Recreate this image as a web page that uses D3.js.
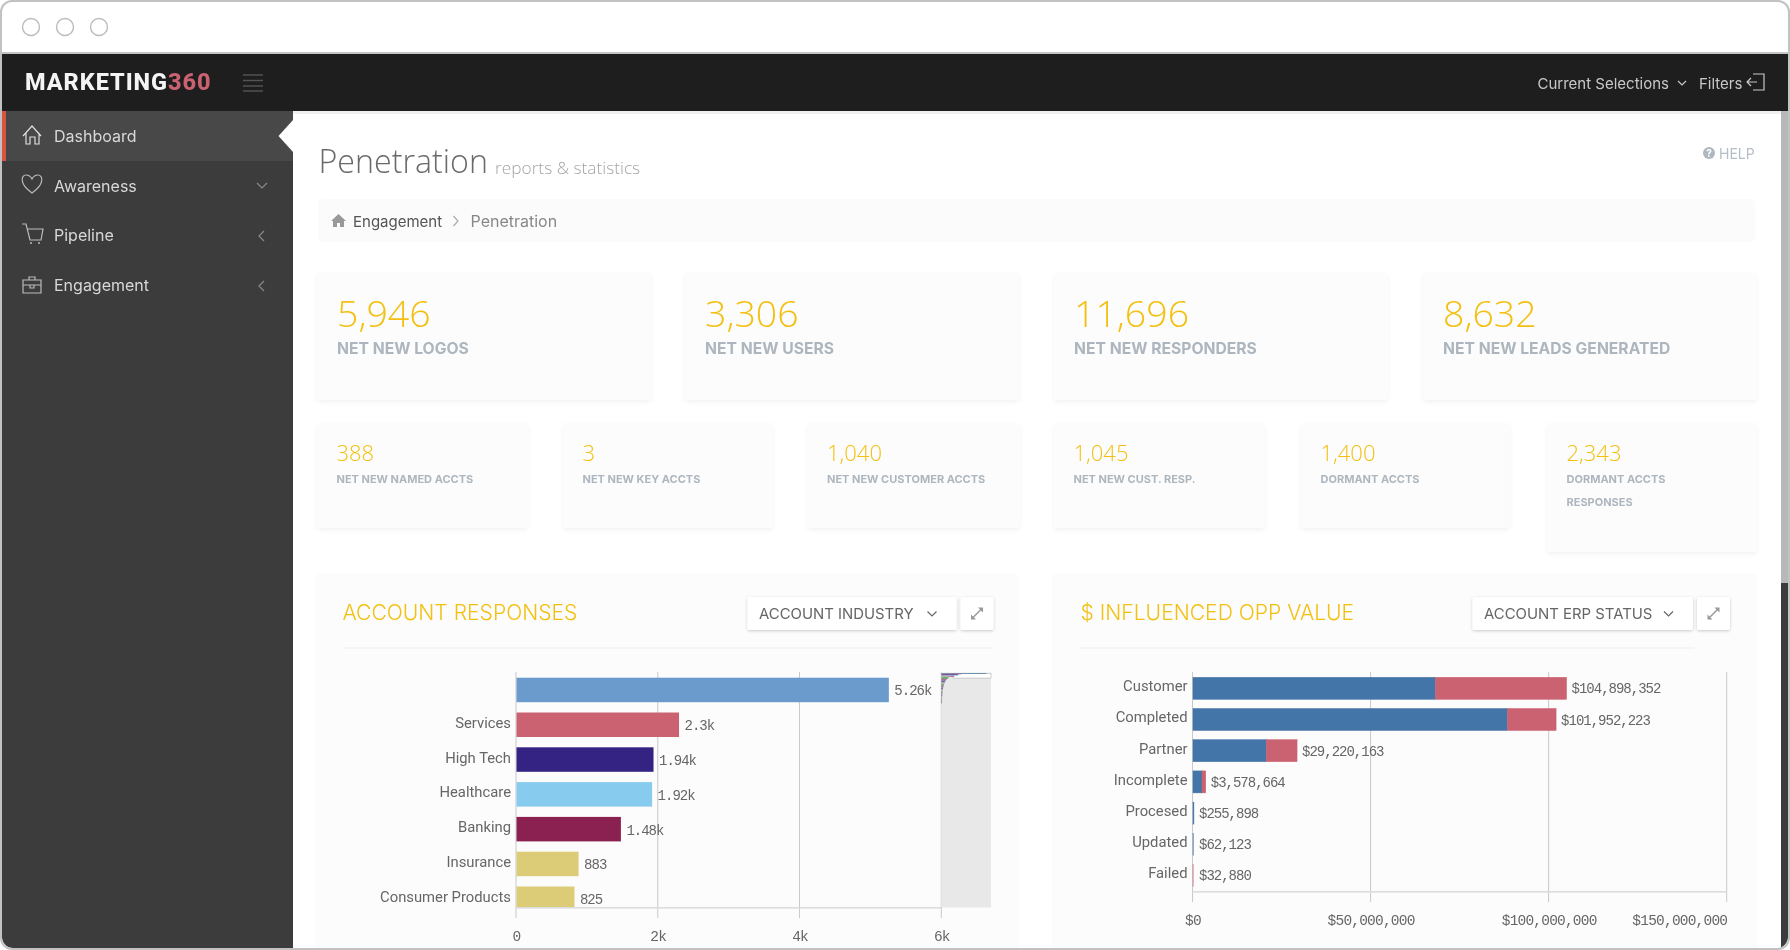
<!DOCTYPE html>
<html>
<head>
<meta charset="utf-8">
<title>Marketing360 - Penetration</title>
<script src="https://cdn.jsdelivr.net/npm/d3@7"></script>
<style>
    html, body { margin: 0; padding: 0; background: #fff; overflow: hidden; }
    svg { display: block; font-family: Inter, Roboto, sans-serif; filter: blur(0.35px); }
    .num { font-family: "Open Sans", sans-serif; fill: #f3c012; font-weight: 300; }
    .val-txt { font-family: "Liberation Mono", monospace; fill: #666; font-size: 14px; letter-spacing: -1px; }
    .tick-txt { font-family: "Liberation Mono", monospace; fill: #666; font-size: 14.5px; letter-spacing: -0.8px; }
    .cat-txt { font-family: Roboto, sans-serif; fill: #666; }
    .axis path, .axis line { display: none; }
</style>
</head>
<body>
<div id="page"></div>
<script>
// dados
var menuItems = ['Dashboard', 'Awareness', 'Pipeline', 'Engagement'];

var kpiValues = ['5,946', '3,306', '11,696', '8,632'];
var kpiLabels = ['NET NEW LOGOS', 'NET NEW USERS', 'NET NEW RESPONDERS', 'NET NEW LEADS GENERATED'];

var subValues = ['388', '3', '1,040', '1,045', '1,400', '2,343'];
var subLabels = ['NET NEW NAMED ACCTS', 'NET NEW KEY ACCTS', 'NET NEW CUSTOMER ACCTS', 'NET NEW CUST. RESP.', 'DORMANT ACCTS', 'DORMANT ACCTS|RESPONSES'];

var industryNames = ['', 'Services', 'High Tech', 'Healthcare', 'Banking', 'Insurance', 'Consumer Products'];
var industryValues = [5260, 2300, 1940, 1920, 1480, 883, 825];
var industryText = ['5.26k', '2.3k', '1.94k', '1.92k', '1.48k', '883', '825'];
var industryColors = ['#6a9bcc', '#cb6272', '#352383', '#87cbee', '#8a2150', '#ddcc77', '#ddcc77'];
var industryTicks = [0, 2000, 4000, 6000];

// mini chart: valores do topo da lista, o resto fica quase zero
var miniValues = [5260, 2300, 1940, 1920, 1480, 883, 825, 700, 610, 540, 470, 420, 380, 340, 300, 270, 240, 215, 190, 170, 150, 135, 120, 105, 95, 85, 75, 68, 60, 54, 48, 42, 37, 33, 29, 25, 22, 19, 16, 14, 12, 10, 8, 6];
var miniColors = ['#4477aa', '#cc6677', '#332288', '#88ccee', '#882255', '#ddcc77', '#44aa99', '#117733', '#999933', '#aa4499'];
var miniTotal = 335;

var erpNames = ['Customer', 'Completed', 'Partner', 'Incomplete', 'Procesed', 'Updated', 'Failed'];
var erpBlue = [68100000, 88300000, 20560000, 2530000, 255898, 62123, 0];
var erpRed = [36798352, 13652223, 8660163, 1048664, 0, 0, 32880];
var erpTicks = [0, 50000000, 100000000, 150000000];

var yellow = '#f3c012';

var svg = d3.select('#page').append('svg').attr('width', 1790).attr('height', 950);

var defs = svg.append('defs');
defs.append('clipPath').attr('id', 'win').append('rect')
    .attr('x', 2).attr('y', 2).attr('width', 1786).attr('height', 946).attr('rx', 11);
defs.append('clipPath').attr('id', 'plotLeft').append('rect')
    .attr('x', 516).attr('y', 672).attr('width', 425).attr('height', 236);
var shadow = defs.append('filter').attr('id', 'soft').attr('x', '-5%').attr('y', '-5%').attr('width', '110%').attr('height', '115%');
shadow.append('feDropShadow').attr('dx', 0).attr('dy', 2).attr('stdDeviation', 2).attr('flood-color', '#000').attr('flood-opacity', 0.05);
var shadowBtn = defs.append('filter').attr('id', 'btn').attr('x', '-10%').attr('y', '-20%').attr('width', '120%').attr('height', '150%');
shadowBtn.append('feDropShadow').attr('dx', 0).attr('dy', 1).attr('stdDeviation', 1.5).attr('flood-color', '#000').attr('flood-opacity', 0.2);

function rect(g, x, y, w, h, fill) {
    return g.append('rect').attr('x', x).attr('y', y).attr('width', w).attr('height', h).attr('fill', fill);
}
function text(g, x, y, s, size, fill) {
    return g.append('text').attr('x', x).attr('y', y).attr('font-size', size).attr('fill', fill).text(s);
}
function icon(g, d, stroke, w) {
    return g.append('path').attr('d', d).attr('fill', 'none').attr('stroke', stroke).attr('stroke-width', w || 1.2);
}

var win = svg.append('g').attr('clip-path', 'url(#win)');

/* INICIO DA JANELA */
rect(win, 0, 0, 1790, 950, '#fff');
[31, 65, 99].forEach(function(cx) {
    win.append('circle').attr('cx', cx).attr('cy', 27).attr('r', 8.5)
        .attr('fill', '#fff').attr('stroke', '#bcbcbc').attr('stroke-width', 1.4);
});
rect(win, 0, 52, 1790, 2, '#c4c4c4');
rect(win, 0, 54, 1790, 57, '#1e1e1e');
rect(win, 293, 111, 1490, 3, '#e6e6e6').attr('opacity', 0.6);
/* FINAL DA JANELA */

/* INICIO DO TOPO */
var logo = win.append('text').attr('x', 25).attr('y', 90).attr('font-size', 23.5)
    .attr('font-weight', 800).attr('letter-spacing', 0.95).style('font-family', 'Roboto, sans-serif');
logo.append('tspan').attr('fill', '#f4f4f4').text('MARKETING');
logo.append('tspan').attr('fill', '#cb6272').text('360');
[75, 80.5, 86, 91].forEach(function(y) { rect(win, 243, y - 0.7, 20, 1.4, '#555'); });

text(win, 1537.5, 88.5, 'Current Selections', 15, '#c8c8c8');
icon(win, 'M1678 81l4 4 4-4', '#c8c8c8');
text(win, 1699, 88.5, 'Filters', 15, '#c8c8c8');
icon(win, 'M1753 74h11v16h-11M1757 82h-10M1751 78l-4 4 4 4', '#c8c8c8');
/* FINAL DO TOPO */

/* INICIO DO MENU */
rect(win, 0, 111, 293, 840, '#3c3c3c');
rect(win, 0, 111, 293, 50, '#484848');
rect(win, 2, 111, 4, 50, '#d9553f');
win.append('path').attr('d', d3.line()([[293, 120], [278.5, 136], [293, 152]])).attr('fill', '#fff');
menuItems.forEach(function(m, i) {
    text(win, 54, 142 + i * 49.7, m, 16, '#d8d8d8');
});
// casa, coracao, carrinho, maleta
icon(win, 'M23 136l9-10 9 10M26 133v11h4v-7h5v7h4v-11', '#ddd');
icon(win, 'M32 193c-13-9-11-18-6-18 3 0 5 2 6 4 1-2 3-4 6-4 5 0 7 9-6 18z', '#bbb');
icon(win, 'M22 224h4l4 16h11l2-11H27', '#bbb');
win.append('circle').attr('cx', 31).attr('cy', 243).attr('r', 1).attr('fill', '#bbb');
win.append('circle').attr('cx', 39).attr('cy', 243).attr('r', 1).attr('fill', '#bbb');
icon(win, 'M23 280h18v13h-18zM23 285h18M29 280v-3h6v3M30 285v3h4v-3', '#bbb');
icon(win, 'M257 183l5 5 5-5', '#888');
icon(win, 'M264 231l-5 5 5 5', '#888');
icon(win, 'M264 281l-5 5 5 5', '#888');
/* FINAL DO MENU */

/* INICIO DO CABECALHO */
text(win, 318.5, 173, 'Penetration', 32.2, '#6a6a6a').style('font-family', '"Open Sans", sans-serif').attr('font-weight', 300);
text(win, 495, 174, 'reports & statistics', 17.3, '#a5a5a5').style('font-family', '"Open Sans", sans-serif').attr('font-weight', 300);

win.append('circle').attr('cx', 1709).attr('cy', 153).attr('r', 6).attr('fill', '#aeb8c0');
text(win, 1709, 157, '?', 10, '#fff').attr('text-anchor', 'middle').attr('font-weight', 700);
text(win, 1719, 158.5, 'HELP', 14, '#b4bdc5');

rect(win, 318, 199, 1437, 43, '#fbfbfb').attr('rx', 5);
win.append('path').attr('d', 'M331 221l7.5-7 7.5 7h-2v6h-4v-4h-3v4h-4v-6z').attr('fill', '#999');
text(win, 353, 226.5, 'Engagement', 15, '#555');
icon(win, 'M453.5 216l4.5 5-4.5 5', '#aaa');
text(win, 470.5, 226.5, 'Penetration', 16, '#888');
/* FINAL DO CABECALHO */

/* INICIO DOS CARTOES */
var kpiLeft = [317, 685, 1054, 1423];
kpiValues.forEach(function(v, i) {
    rect(win, kpiLeft[i], 273, 334, 127, '#fcfcfc').attr('rx', 4).attr('filter', 'url(#soft)');
    text(win, kpiLeft[i] + 20, 327, v, 37.5, yellow).attr('class', 'num');
    text(win, kpiLeft[i] + 20, 354, kpiLabels[i], 15.7, '#adb6be').attr('font-weight', 700);
});

var subLeft = [317, 563, 807.5, 1054, 1301, 1547];
var subRight = [528, 773, 1020, 1265, 1510, 1757];
subValues.forEach(function(v, i) {
    var h = i == 5 ? 129 : 105;
    rect(win, subLeft[i], 423, subRight[i] - subLeft[i], h, '#fcfcfc').attr('rx', 4).attr('filter', 'url(#soft)');
    text(win, subLeft[i] + 19.5, 461, v, 22, yellow).attr('class', 'num');
    subLabels[i].split('|').forEach(function(line, k) {
        text(win, subLeft[i] + 19.5, 483 + k * 22.5, line, 11, '#adb6be').attr('font-weight', 700);
    });
});
/* FINAL DOS CARTOES */

/* INICIO DOS PAINEIS */
function painel(x0, x1, titulo, combo, comboX0, comboX1, tituloX) {
    rect(win, x0, 574, x1 - x0, 380, '#fcfcfc').attr('rx', 4);
    text(win, tituloX, 620, titulo, 21.1, yellow).attr('font-weight', 300);
    rect(win, x0 + 27.5, 647.5, x1 - x0 - (x0 < 1000 ? 53.5 : 91), 1, '#eeeeee');
    rect(win, comboX0, 597, comboX1 - comboX0, 33, '#fff').attr('rx', 2).attr('filter', 'url(#btn)');
    text(win, comboX0 + 11.5, 618.5, combo, 14.9, '#666');
    icon(win, 'M' + (comboX1 - 29) + ' 611.5l4.5 4.5 4.5-4.5', '#666');
    rect(win, comboX1 + 4, 597, 33, 33, '#fff').attr('rx', 2).attr('filter', 'url(#btn)');
    var ex = comboX1 + 20.5;
    icon(win, 'M' + (ex - 5) + ' 618.5l10-10', '#999', 1.4);
    win.append('path').attr('d', 'M' + (ex + 6) + ' 607.5v5l-5-5zM' + (ex - 6) + ' 619.5v-5l5 5z').attr('fill', '#999');
}
painel(315.5, 1019, 'ACCOUNT RESPONSES', 'ACCOUNT INDUSTRY', 747.5, 956.5, 342.5);
painel(1052, 1758, '$ INFLUENCED OPP VALUE', 'ACCOUNT ERP STATUS', 1472.5, 1693, 1080.5);
/* FINAL DOS PAINEIS */

/* INICIO DO GRAFICO DE INDUSTRIA */
var xInd = d3.scaleLinear().domain([0, 6000]).range([516, 941.3]);
var yInd = d3.scaleBand().domain(industryNames).range([672, 916.7]).paddingInner(0.296).paddingOuter(0.164);

win.append('g').selectAll('line').data(industryTicks).enter().append('line')
    .attr('x1', function(d) { return xInd(d); }).attr('x2', function(d) { return xInd(d); })
    .attr('y1', 672).attr('y2', 918)
    .attr('stroke', '#c9c9c9').attr('stroke-width', 1);

win.append('g').attr('clip-path', 'url(#plotLeft)').selectAll('rect').data(industryValues).enter().append('rect')
    .attr('x', xInd(0) + 0.5)
    .attr('y', function(d, i) { return yInd(industryNames[i]); })
    .attr('width', function(d) { return xInd(d) - xInd(0) - 0.5; })
    .attr('height', yInd.bandwidth())
    .attr('fill', function(d, i) { return industryColors[i]; });

rect(win, 516, 907, 425, 1.6, '#dcdcdc');

win.append('g').selectAll('text').data(industryValues).enter().append('text')
    .attr('class', 'val-txt')
    .attr('x', function(d) { return xInd(d) + 5.5; })
    .attr('y', function(d, i) { return yInd(industryNames[i]) + yInd.bandwidth() / 2 + 5.5; })
    .text(function(d, i) { return industryText[i]; });

var axisCat = win.append('g').attr('class', 'axis').attr('transform', 'translate(516,0)')
    .call(d3.axisLeft(yInd).tickSize(0).tickPadding(5));
axisCat.selectAll('text').attr('class', 'cat-txt').attr('dy', '0.2em').style('font-size', '14.8px');

var axisInd = win.append('g').attr('class', 'axis').attr('transform', 'translate(0,918)')
    .call(d3.axisBottom(xInd).tickValues(industryTicks).tickSize(0).tickPadding(13)
        .tickFormat(function(d) { return d == 0 ? '0' : (d / 1000) + 'k'; }));
axisInd.selectAll('text').attr('class', 'tick-txt').attr('dy', '0.71em');

// mini chart
var xMini = d3.scaleLinear().domain([0, 5900]).range([941.3, 991]);
var yMini = d3.scaleLinear().domain([0, miniTotal]).range([673, 907.5]);
rect(win, 941.3, 672.5, 49.7, 235, '#e8e8e8');
rect(win, 953, 673.5, 38, 4.6, '#fff').attr('stroke', '#bbb').attr('stroke-width', 0.7);
win.append('g').selectAll('rect').data(miniValues).enter().append('rect')
    .attr('x', xMini(0))
    .attr('y', function(d, i) { return yMini(i); })
    .attr('width', function(d) { return xMini(d) - xMini(0) + 0.6; })
    .attr('height', yMini(1) - yMini(0))
    .attr('fill', function(d, i) { return miniColors[i % miniColors.length]; });
/* FINAL DO GRAFICO DE INDUSTRIA */

/* INICIO DO GRAFICO DE ERP */
var erpRows = erpNames.map(function(n, i) { return { name: n, blue: erpBlue[i], red: erpRed[i] }; });
var erpStack = d3.stack().keys(['blue', 'red'])(erpRows);
var erpTotals = erpRows.map(function(r) { return r.blue + r.red; });

var xErp = d3.scaleLinear().domain([0, 150000000]).range([1192.5, 1726.7]);
var yErp = d3.scaleBand().domain(erpNames).range([672, 891.8]).paddingInner(0.295).paddingOuter(0.17);
var moeda = d3.format('$,.0f');

win.append('g').selectAll('line').data(erpTicks).enter().append('line')
    .attr('x1', function(d) { return xErp(d); }).attr('x2', function(d) { return xErp(d); })
    .attr('y1', 672).attr('y2', 902)
    .attr('stroke', '#c9c9c9').attr('stroke-width', 1);

var erpColors = ['#4475a8', '#cb6272'];
win.append('g').selectAll('g').data(erpStack).enter().append('g')
    .attr('fill', function(d, i) { return erpColors[i]; })
    .attr('stroke', function(d, i) { return erpColors[i]; })
    .attr('stroke-width', 0.5)
    .selectAll('rect').data(function(d) { return d; }).enter().append('rect')
    .attr('x', function(d) { return xErp(d[0]) + 0.5; })
    .attr('y', function(d) { return yErp(d.data.name); })
    .attr('width', function(d) { return xErp(d[1]) - xErp(d[0]); })
    .attr('height', yErp.bandwidth());

rect(win, 1192.5, 891, 534.2, 1.6, '#dcdcdc');

win.append('g').selectAll('text').data(erpTotals).enter().append('text')
    .attr('class', 'val-txt')
    .attr('x', function(d) { return Math.max(xErp(d) + 5.5, 1199); })
    .attr('y', function(d, i) { return yErp(erpNames[i]) + yErp.bandwidth() / 2 + 5; })
    .text(function(d) { return moeda(d); });

var axisErpCat = win.append('g').attr('class', 'axis').attr('transform', 'translate(1192.5,0)')
    .call(d3.axisLeft(yErp).tickSize(0).tickPadding(5));
axisErpCat.selectAll('text').attr('class', 'cat-txt').attr('dy', '0.2em').style('font-size', '14.8px');

var axisErp = win.append('g').attr('class', 'axis').attr('transform', 'translate(0,902)')
    .call(d3.axisBottom(xErp).tickValues(erpTicks).tickSize(0).tickPadding(13).tickFormat(moeda));
axisErp.selectAll('text').attr('class', 'tick-txt').attr('dy', '0.71em')
    .attr('text-anchor', function(d) { return d == 150000000 ? 'end' : 'middle'; });
/* FINAL DO GRAFICO DE ERP */

// barra de rolagem e borda da janela
rect(win, 1781, 111, 7, 472, '#b8b8b8');
rect(win, 1781, 583, 7, 370, '#3c3c3c');
svg.append('rect').attr('x', 1).attr('y', 1).attr('width', 1788).attr('height', 948).attr('rx', 11)
    .attr('fill', 'none').attr('stroke', '#c2c2c2').attr('stroke-width', 2);
</script>
</body>
</html>
